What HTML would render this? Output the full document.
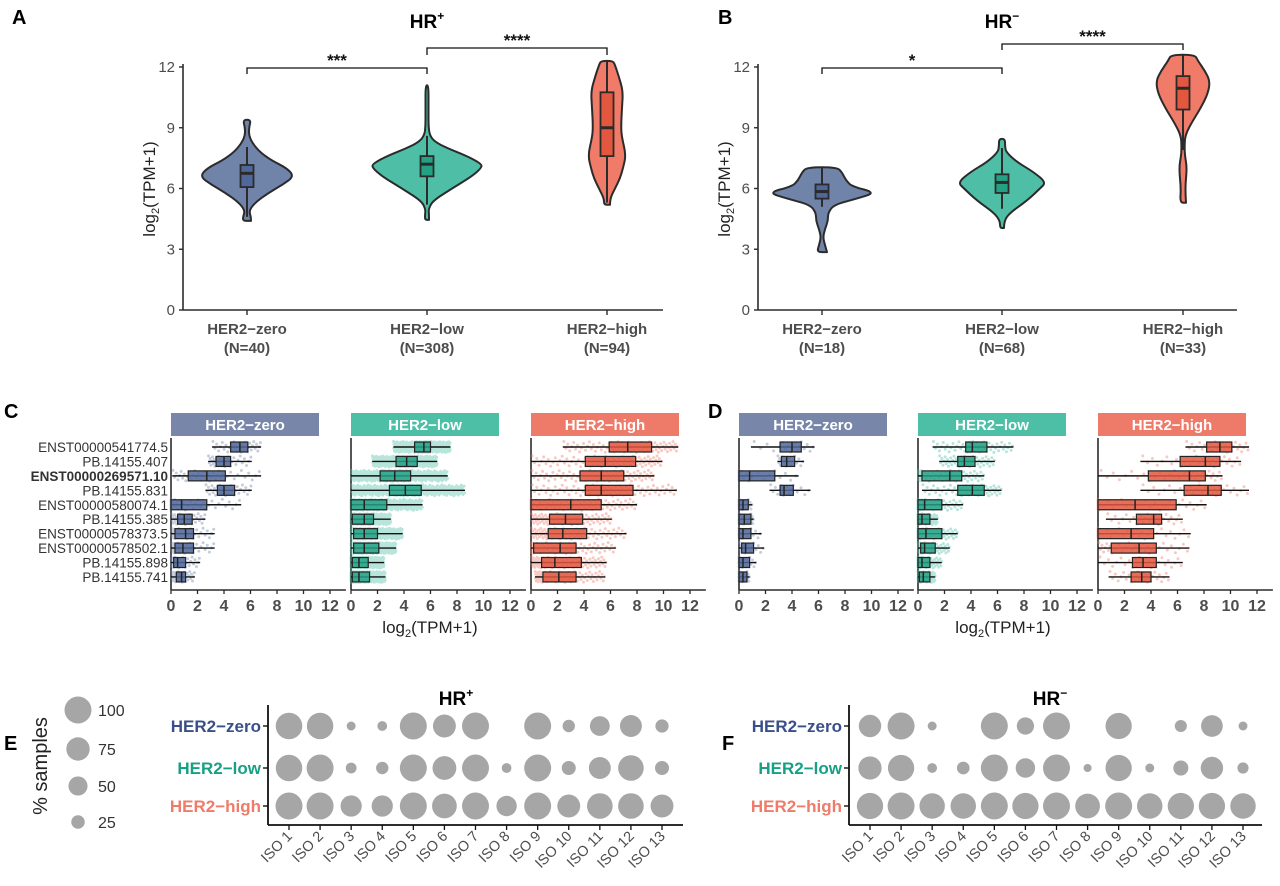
<!DOCTYPE html>
<html><head><meta charset="utf-8">
<style>
html,body{margin:0;padding:0;background:#fff;}
svg{display:block;font-family:"Liberation Sans",Arial,sans-serif;}
</style></head>
<body>
<svg id="fig" width="1280" height="886" viewBox="0 0 1280 886" xmlns="http://www.w3.org/2000/svg"></svg>
<script>
// ===== Data: panels A/B violins =====
const groups = ["HER2\u2212zero","HER2\u2212low","HER2\u2212high"];
const nA = ["(N=40)","(N=308)","(N=94)"];
const nB = ["(N=18)","(N=68)","(N=33)"];
const yTicks = [0,3,6,9,12];
// violin density profiles (value, relative half-width px)
const vA0 = [4.4,4.6,4.9,5.3,5.8,6.2,6.6,7.0,7.4,7.8,8.2,8.6,9.0,9.4];
const wA0 = [4,4,2,8,22,36,47,40,24,13,6,2,2,4];
const vA1 = [4.45,4.7,5.0,5.4,6.0,6.6,7.0,7.2,7.6,8.0,8.3,8.6,9.0,10.0,11.1];
const wA1 = [2,2,1.5,6,25,45,54,55,40,20,8,3,1.5,1.5,1.5];
const vA2 = [5.2,5.5,6.0,6.5,7.0,7.65,8.5,9.0,10.0,10.8,11.5,12.1,12.3];
const wA2 = [3,3,8,13,16,19,15,14,15,16,12,8,6];
const vB0 = [2.86,3.2,3.6,4.0,4.4,4.8,5.2,5.5,5.8,6.1,6.4,6.8,7.05];
const wB0 = [5,3,1,3,6,6,12,35,54,30,24,20,15];
const vB1 = [4.05,4.4,4.8,5.4,6.0,6.3,6.8,7.3,7.8,8.1,8.45];
const wB1 = [2,2,8,25,38,44,32,15,4,3,3];
const vB2 = [5.3,6.0,7.0,7.6,8.0,8.6,9.2,10.0,10.7,11.3,11.8,12.3,12.6];
const wB2 = [3,2,4,2,1.5,2,8,18,25,27,22,15,12];
// box stats [wlo, q1, med, q3, whi]
const bA = [[4.6,6.07,6.75,7.16,8.05],[5.2,6.6,7.2,7.6,8.6],[5.3,7.6,9.0,10.75,12.3]];
const bB = [[5.1,5.5,5.85,6.2,7.05],[5.0,5.78,6.3,6.7,8.0],[7.9,9.9,10.95,11.55,12.6]];

// ===== Data: panels C/D box plots =====
const transcripts = ["ENST00000541774.5","PB.14155.407","ENST00000269571.10","PB.14155.831","ENST00000580074.1","PB.14155.385","ENST00000578373.5","ENST00000578502.1","PB.14155.898","PB.14155.741"];
const xTicksC = [0,2,4,6,8,10,12];
const cZero = [[3.1,4.5,5.2,5.8,6.8],[2.8,3.4,4.0,4.5,6.1],[0.1,1.3,2.7,4.1,6.8],[2.6,3.5,4.0,4.8,6.1],[0,0,0.8,2.7,5.3],[0,0.5,1.0,1.6,2.6],[0,0.3,1.1,1.7,3.3],[0,0.3,0.9,1.7,3.3],[0,0.2,0.5,1.1,2.2],[0,0.4,0.8,1.1,1.8]];
const cLow = [[3.2,4.8,5.5,6.0,7.5],[1.6,3.4,4.2,5.0,6.5],[0,2.2,3.3,4.5,7.3],[0,2.9,4.1,5.3,8.6],[0,0,1.0,2.7,5.4],[0,0.1,1.0,1.7,3.0],[0,0.2,1.0,2.0,3.9],[0,0.2,1.0,2.1,3.4],[0,0.1,0.6,1.3,2.5],[0,0.1,0.6,1.4,2.6]];
const cHigh = [[2.4,5.9,7.3,9.1,11.1],[0,4.1,5.6,7.9,9.9],[0,3.7,5.3,7.0,9.3],[0,4.1,5.3,7.7,11.0],[0,0,3.0,5.3,8.0],[0,1.4,2.6,3.9,6.1],[0,1.3,2.4,4.2,7.2],[0,0.2,2.2,3.4,6.4],[0,0.8,1.8,3.8,5.7],[0.3,0.9,2.1,3.4,5.6]];
const dZero = [[0.9,3.1,4.0,4.7,5.7],[2.9,3.2,3.6,4.2,4.9],[0,0,0.8,2.7,4.5],[2.3,3.1,3.4,4.1,5.4],[0,0,0.3,0.7,1.0],[0,0,0.4,0.9,1.1],[0,0,0.3,0.9,1.7],[0,0.2,0.5,1.1,1.9],[0,0,0.3,0.8,1.3],[0,0,0.3,0.6,0.8]];
const dLow = [[1.1,3.6,4.1,5.2,7.2],[1.6,3.0,3.5,4.3,5.8],[0,0.3,2.4,3.3,5.0],[0.3,3.0,4.1,5.0,6.3],[0,0,0.5,1.8,3.4],[0,0,0.3,0.9,1.5],[0,0,0.6,1.8,3.0],[0,0.2,0.5,1.3,2.4],[0,0,0.3,0.9,1.8],[0,0.1,0.4,0.9,1.3]];
const dHigh = [[6.6,8.2,9.2,10.1,11.4],[3.2,6.2,8.1,9.2,10.8],[0,3.8,6.9,8.1,9.4],[3.2,6.5,8.3,9.3,11.4],[0,0,2.8,5.9,8.2],[0.6,2.9,4.2,4.8,6.4],[0,0,2.5,4.2,7.0],[0,1.0,3.1,4.4,6.9],[0,2.6,3.4,4.4,6.4],[0.8,2.5,3.3,4.0,5.4]];
const nC = [40,308,94];
const nD = [18,68,33];

// ===== Data: panels E/F dot plots (% samples) =====
const isoLabels = ["ISO 1","ISO 2","ISO 3","ISO 4","ISO 5","ISO 6","ISO 7","ISO 8","ISO 9","ISO 10","ISO 11","ISO 12","ISO 13"];
const eZero = [97,96,11,13,100,72,100,0,100,21,54,66,24];
const eLow  = [96,100,16,21,100,78,100,13,100,27,66,90,27];
const eHigh = [100,100,62,62,100,84,100,57,100,72,90,90,72];
const fZero = [69,100,11,0,100,41,100,0,95,0,20,65,11];
const fLow  = [74,95,13,22,100,52,100,9,95,11,31,69,17];
const fHigh = [95,100,89,89,100,95,100,84,100,89,95,95,89];
const legendPct = [100,75,50,25];

// ===== helpers =====
const NS="http://www.w3.org/2000/svg";
const svg=document.getElementById('fig');
function mk(tag,attrs,parent,txt){const e=document.createElementNS(NS,tag);for(const k in attrs)e.setAttribute(k,attrs[k]);if(txt!==undefined)e.textContent=txt;(parent||svg).appendChild(e);return e;}
const violinFill=["#7083a9","#4ebfa6","#ef7b68"];
const boxFill=["#50679a","#22a185","#e3573f"];
const stripFill=["#7886aa","#4dbfa6","#ee7b6a"];
const labelCol=["#3a4f8a","#17a084","#ef7b6a"];
const dark="#2b2b2b", grayTxt="#4d4d4d";
function smoothPath(pts){
  let d='M'+pts[0][0].toFixed(1)+','+pts[0][1].toFixed(1);
  for(let i=1;i<pts.length-1;i++){
    const mx=(pts[i][0]+pts[i+1][0])/2, my=(pts[i][1]+pts[i+1][1])/2;
    d+='Q'+pts[i][0].toFixed(1)+','+pts[i][1].toFixed(1)+' '+mx.toFixed(1)+','+my.toFixed(1);
  }
  const l=pts[pts.length-1];
  d+='L'+l[0].toFixed(1)+','+l[1].toFixed(1);
  return d;
}

// ----- panel letters -----
[["A",12,24],["B",718,24],["C",4,418],["D",708,418],["E",4,750],["F",722,750]].forEach(p=>{
  const t=mk('text',{x:p[1],y:p[2],'font-size':20,'font-weight':'bold',fill:'#000'},svg,p[0]);
  
  
});

// ----- Violin panels -----
function violinPanel(id,axX,xEnd,cats,vs,ws,boxes,ns,title,titleX,brackets){
  const g=mk('g',{});
  
  
  const y0=310, k=20.25;
  const Y=v=>y0-v*k;
  const tt=mk('text',{x:titleX,y:28,'font-size':19,'font-weight':'bold','text-anchor':'middle',fill:'#000'},g);
  
  
  tt.appendChild(document.createTextNode('HR'));
  mk('tspan',{'font-size':12,dy:-8},tt,title);
  const ya=mk('line',{x1:axX,y1:64,x2:axX,y2:y0,stroke:dark,'stroke-width':1.6},g);
  
  
  const xa=mk('line',{x1:axX,y1:y0,x2:xEnd,y2:y0,stroke:dark,'stroke-width':1.6},g);
  
  
  yTicks.forEach(t=>{
    mk('line',{x1:axX-4,y1:Y(t),x2:axX,y2:Y(t),stroke:dark,'stroke-width':1.4},g);
    const tl=mk('text',{x:axX-8,y:Y(t)+5,'font-size':15,'text-anchor':'end',fill:grayTxt},g,String(t));
    
    
  });
  const yt=mk('text',{transform:`translate(${axX-28},189) rotate(-90)`,'font-size':17,'text-anchor':'middle',fill:'#222'},g);
  
  
  yt.appendChild(document.createTextNode('log'));
  mk('tspan',{'font-size':11,dy:4},yt,'2');
  mk('tspan',{dy:-4},yt,'(TPM+1)');
  cats.forEach((cx,i)=>{
    mk('line',{x1:cx,y1:y0,x2:cx,y2:y0+5,stroke:dark,'stroke-width':1.4},g);
    const cl=mk('text',{x:cx,y:y0+24,'font-size':15,'font-weight':'bold','text-anchor':'middle',fill:grayTxt},g,groups[i]);
    
    
    const nl=mk('text',{x:cx,y:y0+43,'font-size':15,'font-weight':'bold','text-anchor':'middle',fill:grayTxt},g,ns[i]);
    
    
    const v=vs[i], w=ws[i];
    const pts=[];
    for(let j=0;j<v.length;j++) pts.push([cx+w[j],Y(v[j])]);
    for(let j=v.length-1;j>=0;j--) pts.push([cx-w[j],Y(v[j])]);
    pts.push([cx+w[0],Y(v[0])]);
    const vp=mk('path',{d:smoothPath(pts)+'Z',fill:violinFill[i],stroke:dark,'stroke-width':2,'stroke-linejoin':'round'},g);
    
    
    const b=boxes[i];
    const wl=mk('line',{x1:cx,y1:Y(b[0]),x2:cx,y2:Y(b[4]),stroke:dark,'stroke-width':2},g);
    
    
    const br=mk('rect',{x:cx-6.5,y:Y(b[3]),width:13,height:Y(b[1])-Y(b[3]),fill:boxFill[i],stroke:dark,'stroke-width':1.8},g);
    
    
    mk('line',{x1:cx-6.5,y1:Y(b[2]),x2:cx+6.5,y2:Y(b[2]),stroke:dark,'stroke-width':3},g);
  });
  brackets.forEach(bk=>{
    const p=mk('path',{d:`M${bk[0]},${bk[3]}V${bk[2]}H${bk[1]}V${bk[3]}`,fill:'none',stroke:'#111','stroke-width':1.3},g);
    
    
    const s=mk('text',{x:(bk[0]+bk[1])/2,y:bk[2]-2,'font-size':17,'font-weight':'bold','text-anchor':'middle',fill:'#111'},g,bk[4]);
    
    
  });
}
violinPanel('a',183,663,[247,427,607],[vA0,vA1,vA2],[wA0,wA1,wA2],bA,nA,'+',427,
  [[247,427,68,74,'***'],[427,607,48,55,'****']]);
violinPanel('b',758,1237,[822,1002,1183],[vB0,vB1,vB2],[wB0,wB1,wB2],bB,nB,'\u2212',1002,
  [[822,1002,68,74,'*'],[1002,1183,44,50,'****']]);

// ----- Box/jitter panels -----
function facetPanel(id,origins,datasets,counts,titleX,showLabels){
  const g=mk('g',{});
  
  
  const k=13.25, rowY=r=>447+r*14.44, axY=590;
  if(showLabels){
    transcripts.forEach((t,r)=>{
      const tl=mk('text',{x:168,y:rowY(r)+5,'font-size':13.5,'text-anchor':'end',fill:'#333','font-weight':r===2?'bold':'normal'},g,t);
      
      
    });
  }
  origins.forEach((x0,f)=>{
    const X=v=>x0+v*k;
    const st=mk('rect',{x:x0,y:413,width:148,height:23,fill:stripFill[f]},g);
    
    
    const stt=mk('text',{x:x0+74,y:430,'font-size':15,'font-weight':'bold','text-anchor':'middle',fill:'#fff'},g,groups[f]);
    
    
    mk('line',{x1:x0,y1:438,x2:x0,y2:axY,stroke:dark,'stroke-width':1.6},g);
    mk('line',{x1:x0,y1:axY,x2:x0+13.2*k,y2:axY,stroke:dark,'stroke-width':1.6},g);
    xTicksC.forEach(t=>{
      mk('line',{x1:X(t),y1:axY,x2:X(t),y2:axY+4,stroke:dark,'stroke-width':1.3},g);
      const tl=mk('text',{x:X(t),y:axY+21,'font-size':16,'font-weight':'bold','text-anchor':'middle',fill:grayTxt},g,String(t));
      
      
    });
    const ds=datasets[f], n=counts[f];
    ds.forEach((b,r)=>{
      const cy=rowY(r);
      const pts=mk('g',{fill:violinFill[f],opacity:0.4},g);
      
      
      for(let i=0;i<n;i++){
        const u=(i+0.5)/n;
        let v;
        if(u<0.25)v=b[0]+(b[1]-b[0])*(u/0.25);
        else if(u<0.5)v=b[1]+(b[2]-b[1])*((u-0.25)/0.25);
        else if(u<0.75)v=b[2]+(b[3]-b[2])*((u-0.5)/0.25);
        else v=b[3]+(b[4]-b[3])*((u-0.75)/0.25);
        const jy=(((i*0.618034)%1)-0.5)*11;
        mk('circle',{cx:X(v).toFixed(1),cy:(cy+jy).toFixed(1),r:1.5},pts);
      }
      const wl=mk('line',{x1:X(b[0]),y1:cy,x2:X(b[4]),y2:cy,stroke:'#111','stroke-width':1.4},g);
      
      
      const br=mk('rect',{x:X(b[1]),y:cy-5,width:Math.max(X(b[3])-X(b[1]),1),height:10,fill:boxFill[f],'fill-opacity':0.85,stroke:'#222','stroke-width':1.2},g);
      
      
      mk('line',{x1:X(b[2]),y1:cy-5,x2:X(b[2]),y2:cy+5,stroke:'#222','stroke-width':1.5},g);
    });
  });
  const xt=mk('text',{x:titleX,y:633,'font-size':17,'text-anchor':'middle',fill:'#222'},g);
  
  
  xt.appendChild(document.createTextNode('log'));
  mk('tspan',{'font-size':11,dy:4},xt,'2');
  mk('tspan',{dy:-4},xt,'(TPM+1)');
}
facetPanel('c',[171,351,531],[cZero,cLow,cHigh],nC,430,true);
facetPanel('d',[739,918,1098],[dZero,dLow,dHigh],nD,1003,false);

// ----- Dot panels -----
const R=p=>13.5*Math.sqrt(p/100);
function dotPanel(id,axX,x1,xEnd,rows,titleX,supTxt){
  const g=mk('g',{});
  
  
  const rowYs=[726,768,806], axY=825, step=(x1-axX-21)/12, X=i=>axX+21+i*step;
  const tt=mk('text',{x:titleX,y:705,'font-size':19,'font-weight':'bold','text-anchor':'middle',fill:'#000'},g);
  
  
  tt.appendChild(document.createTextNode('HR'));
  mk('tspan',{'font-size':12,dy:-8},tt,supTxt);
  mk('line',{x1:axX,y1:705,x2:axX,y2:axY,stroke:'#111','stroke-width':1.8},g);
  mk('line',{x1:axX,y1:axY,x2:xEnd,y2:axY,stroke:'#111','stroke-width':1.8},g);
  rows.forEach((vals,r)=>{
    mk('line',{x1:axX-5,y1:rowYs[r],x2:axX,y2:rowYs[r],stroke:'#111','stroke-width':1.4},g);
    const gl=mk('text',{x:axX-7,y:rowYs[r]+6,'font-size':17,'font-weight':'bold','text-anchor':'end',fill:labelCol[r]},g,groups[r]);
    
    
    vals.forEach((p,i)=>{
      if(p<=0)return;
      const c=mk('circle',{cx:X(i),cy:rowYs[r],r:R(p).toFixed(2),fill:'#a6a6a6'},g);
      
      
    });
  });
  isoLabels.forEach((l,i)=>{
    mk('line',{x1:X(i),y1:axY,x2:X(i),y2:axY+5,stroke:'#111','stroke-width':1.3},g);
    const tl=mk('text',{transform:`translate(${X(i)+4},${axY+12}) rotate(-45)`,'font-size':14.5,'text-anchor':'end',fill:grayTxt},g,l);
    
    
  });
}
dotPanel('e',268,662,683,[eZero,eLow,eHigh],456,'+');
dotPanel('f',849,1243,1262,[fZero,fLow,fHigh],1050,'\u2212');

// ----- size legend -----
const lg=mk('g',{});


const lgY=[710,749,786,822];
legendPct.forEach((p,i)=>{
  const c=mk('circle',{cx:78,cy:lgY[i],r:R(p).toFixed(2),fill:'#a6a6a6'},lg);
  
  
  const t=mk('text',{x:98,y:lgY[i]+6,'font-size':16,fill:'#333'},lg,String(p));
  
  
});
const lt=mk('text',{transform:'translate(47,766) rotate(-90)','font-size':20,'text-anchor':'middle',fill:'#222'},lg,'% samples');


</script>
</body></html>
